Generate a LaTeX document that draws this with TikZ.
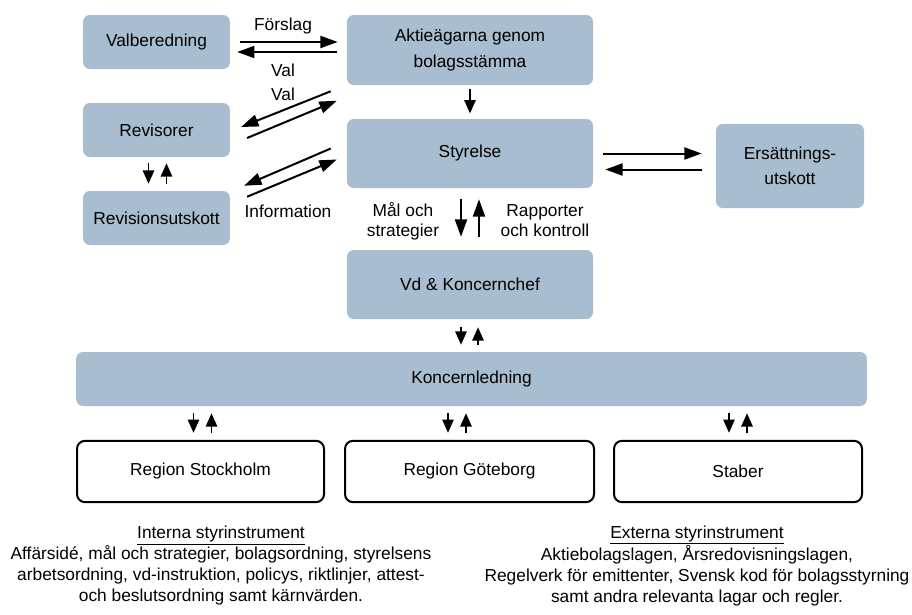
\documentclass[tikz,border=0pt]{standalone}
\usepackage{fontspec}
\setmainfont{Liberation Sans}
\usetikzlibrary{arrows.meta,calc}
\definecolor{boxblue}{HTML}{A8BDD0}

\begin{document}
\begin{tikzpicture}[x=0.75pt, y=-0.75pt,
    box/.style={fill=boxblue, rounded corners=5pt, align=center, font=\fontsize{13}{19}\selectfont},
    regbox/.style={draw, line width=1.5pt, rounded corners=6pt, font=\fontsize{13}{19}\selectfont, minimum height=46pt},
    arr/.style={-{Triangle[length=13pt,width=9pt]}, line width=1.5pt},
    sarr/.style={-{Triangle[length=10pt,width=8.5pt]}, line width=1.4pt},
    lbl/.style={align=center, font=\fontsize{13}{15}\selectfont}]
  \useasboundingbox (0,0) rectangle (912,614);

  \node[box, minimum width=110pt, minimum height=40.5pt] (valb) at (156.5,42) {Valberedning};
  \node[box, minimum width=110pt, minimum height=40.5pt] (rev) at (156.5,130) {Revisorer};
  \node[box, minimum width=110pt, minimum height=40.5pt] (revu) at (156.5,218) {Revisionsutskott};
  \node[box, minimum width=184.5pt, minimum height=52.5pt] (aktie) at (470,50) {Aktieägarna genom\\bolagsstämma};
  \node[box, minimum width=184.5pt, minimum height=51.75pt] (styr) at (470,153.5) {Styrelse};
  \node[box, minimum width=184.5pt, minimum height=51.75pt] (vd) at (470,284.5) {Vd \& Koncernchef};
  \node[box, minimum width=111pt, minimum height=63pt] (ers) at (790,166) {Ersättnings-\\utskott};
  \node[box, minimum width=593pt, minimum height=40.5pt] (kl) at (471.5,379) {Koncernledning};
  \node[regbox, minimum width=185.25pt] (stock) at (200.5,471.5) {Region Stockholm};
  \node[regbox, minimum width=186.75pt] (gbg) at (469.5,471.5) {Region Göteborg};
  \node[regbox, minimum width=186pt] (stab) at (738,471.5) {Staber};

  \draw[arr] ($(valb.east)+(10,0)$) -- ($(valb.east -| aktie.west)+(-9,0)$);
  \draw[arr] ($(valb.east -| aktie.west)+(-10,10)$) -- ($(valb.east)+(7,10)$);
  \node[lbl] (forslag) at (283,26) {Förslag};
  \node[lbl] (val1) at (283,70) {Val};
  \node[lbl] (val2) at (283,94) {Val};

  \draw[arr] ($(aktie.south west)+(-16,6)$) -- ($(rev.east)+(11,-3)$);
  \draw[arr] ($(rev.east)+(17,8)$) -- ($(styr.north west)+(-10,-18)$);
  \draw[arr] ($(styr.west)+(-16,-5)$) -- ($(revu.north east)+(14,-5)$);
  \draw[arr] ($(revu.north east)+(17,6)$) -- ($(styr.west)+(-10,6)$);
  \node[lbl] (info) at (288,211) {Information};

  \draw[sarr] ($(rev.south)+(-8,6)$) -- ($(revu.north)+(-8,-7)$);
  \draw[sarr] ($(revu.north)+(10,-7)$) -- ($(rev.south)+(10,6)$);

  \draw[sarr, shorten <=3pt, shorten >=4pt] (aktie) -- (styr);

  \draw[arr] ($(styr.east)+(10,0)$) -- ($(styr.east -| ers.west)+(-14,0)$);
  \draw[arr] ($(styr.east -| ers.west)+(-14,16)$) -- ($(styr.east)+(12,16)$);

  \draw[arr] ($(styr.south)+(-9,11)$) -- ($(vd.north)+(-9,-13)$);
  \draw[arr] ($(vd.north)+(9,-13)$) -- ($(styr.south)+(9,11)$);
  \node[lbl] (mal) at (403,221) {Mål och\\strategier};
  \node[lbl] (rapp) at (545,221) {Rapporter\\och kontroll};

  \draw[sarr] ($(vd.south)+(-9,8)$) -- ($(vd.south |- kl.north)+(-9,-7)$);
  \draw[sarr] ($(vd.south |- kl.north)+(8,-7)$) -- ($(vd.south)+(8,8)$);

  \foreach \r/\dx in {stock/2, gbg/-12.5, stab/0}{
    \draw[sarr] ($(\r.north |- kl.south)+(\dx-9,7)$) -- ($(\r.north)+(\dx-9,-7)$);
    \draw[sarr] ($(\r.north)+(\dx+9,-7)$) -- ($(\r.north |- kl.south)+(\dx+9,7)$);
  }

  \node[lbl, font=\fontsize{13}{15.75}\selectfont] (interna) at (221,566) {\underline{Interna styrinstrument}\\Affärsidé, mål och strategier, bolagsordning, styrelsens\\arbetsordning, vd-instruktion, policys, riktlinjer, attest-\\och beslutsordning samt kärnvärden.};
  \node[lbl, font=\fontsize{13}{15.75}\selectfont] (externa) at (697,566) {\underline{Externa styrinstrument}\\Aktiebolagslagen, Årsredovisningslagen,\\Regelverk för emittenter, Svensk kod för bolagsstyrning\\samt andra relevanta lagar och regler.};
\end{tikzpicture}
\end{document}
